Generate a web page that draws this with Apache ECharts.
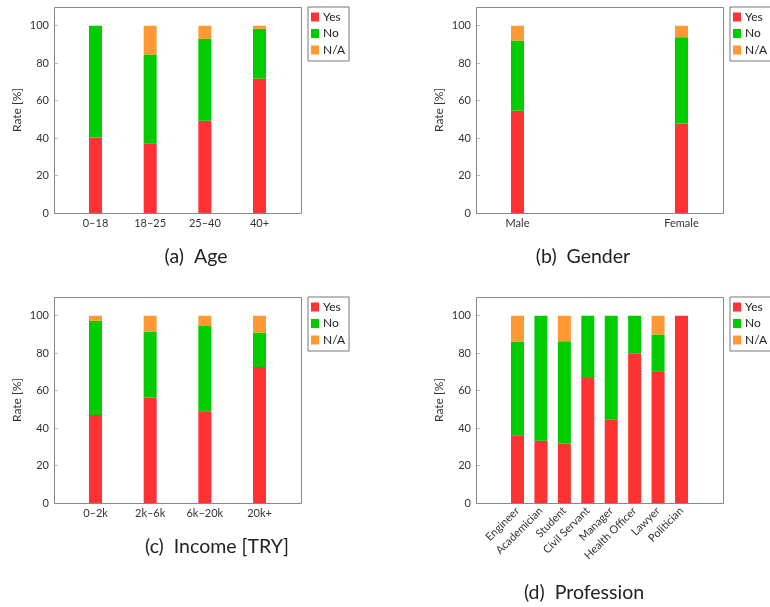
<!DOCTYPE html>
<html>
<head>
<meta charset="utf-8">
<script src="https://cdn.jsdelivr.net/npm/echarts@6/dist/echarts.min.js"></script>
<style>
  html, body { margin: 0; padding: 0; background: #fff; }
  #main { width: 770px; height: 607px; }
</style>
</head>
<body>
<div id="main"></div>
<script>
// survey answers per group, in percent
var ageCats = ['0\u201318', '18\u201325', '25\u201340', '40+'];
var ageYes = [40.3, 37.2, 49.2, 71.7];
var ageNo = [59.7, 47.4, 43.8, 26.7];
var ageNA = [0, 15.4, 7.0, 1.6];

var genderCats = ['Male', 'Female'];
var genderYes = [54.6, 47.8];
var genderNo = [37.5, 46.1];
var genderNA = [7.9, 6.1];

var incomeCats = ['0\u20132k', '2k\u20136k', '6k\u201320k', '20k+'];
var incomeYes = [47.0, 56.4, 49.0, 72.6];
var incomeNo = [50.3, 35.2, 45.5, 18.3];
var incomeNA = [2.7, 8.4, 5.5, 9.1];

var profCats = ['Engineer', 'Academician', 'Student', 'Civil Servant', 'Manager', 'Health Officer', 'Lawyer', 'Politician'];
var profYes = [36.2, 33.3, 31.8, 66.7, 44.4, 80.0, 70.0, 100];
var profNo = [50.0, 66.7, 54.6, 33.3, 55.6, 20.0, 20.0, 0];
var profNA = [13.8, 0, 13.6, 0, 0, 0, 10.0, 0];

var captions = ['(a)  Age', '(b)  Gender', '(c)  Income [TRY]', '(d)  Profession'];

// frame box of each panel; categories sit between left+pad and right-pad
var panels = [
    { cats: ageCats, yes: ageYes, no: ageNo, na: ageNA, left: 54, top: 7, cx: 196, cy: 257 },
    { cats: genderCats, yes: genderYes, no: genderNo, na: genderNA, left: 476, top: 7, cx: 583, cy: 257 },
    { cats: incomeCats, yes: incomeYes, no: incomeNo, na: incomeNA, left: 54, top: 297, cx: 217, cy: 547 },
    { cats: profCats, yes: profYes, no: profNo, na: profNA, left: 476, top: 297, cx: 584, cy: 593, rotate: 45 }
];
var boxW = 247, boxH = 206, pad = 41.5;

var colors = { Yes: '#ff3333', No: '#00cc00', 'N/A': '#ff9933' };
var font = 'Lato';

var myChart = echarts.init(document.getElementById('main'));

var grid = [], xAxis = [], yAxis = [], legend = [], series = [], graphic = [];

panels.forEach(function (p, k) {
    grid.push({
        left: p.left + pad, top: p.top, width: boxW - 2 * pad, height: boxH
    });
    xAxis.push({
        type: 'category', gridIndex: k, data: p.cats, boundaryGap: false,
        axisLine: { show: false },
        splitLine: { show: false },
        axisTick: { show: true, inside: true, length: 4, lineStyle: { color: '#bbb' } },
        axisLabel: {
            interval: 0,
            color: '#333', fontFamily: font, fontSize: 11,
            margin: p.rotate ? 6 : 5,
            rotate: p.rotate || 0
        }
    });
    yAxis.push({
        type: 'value', gridIndex: k, min: 0, max: 110, interval: 20,
        offset: pad,
        name: 'Rate [%]', nameLocation: 'middle', nameGap: 31,
        nameTextStyle: { color: '#333', fontFamily: font, fontSize: 12 },
        axisLine: { show: false, onZero: false },
        splitLine: { show: false },
        axisTick: { show: true, inside: true, length: 4, lineStyle: { color: '#bbb' } },
        axisLabel: { showMaxLabel: false, color: '#333', fontFamily: font, fontSize: 11, margin: 5 }
    });
    legend.push({
        data: ['Yes', 'No', 'N/A'],
        orient: 'vertical', left: p.left + boxW + 7, top: p.top,
        icon: 'rect', itemWidth: 8, itemHeight: 9, itemGap: 4.5,
        padding: [4, 4, 5, 3],
        borderColor: '#777', borderWidth: 1,
        textStyle: { color: '#222', fontFamily: font, fontSize: 12, lineHeight: 12, padding: [0, 0, 0, -1] },
        selectedMode: false
    });
    [['Yes', p.yes], ['No', p.no], ['N/A', p.na]].forEach(function (s) {
        series.push({
            name: s[0], type: 'bar', stack: 'p' + k,
            xAxisIndex: k, yAxisIndex: k,
            barWidth: 13, clip: false,
            itemStyle: { color: colors[s[0]] },
            data: s[1]
        });
    });
    graphic.push({
        type: 'rect', z: 10, silent: true,
        shape: { x: p.left + 0.5, y: p.top + 0.5, width: boxW, height: boxH },
        style: { fill: null, stroke: '#888', lineWidth: 1 }
    });
    graphic.push({
        type: 'text', x: p.cx, y: p.cy,
        style: {
            text: captions[k], fill: '#222', font: '19.5px ' + font,
            textAlign: 'center', textVerticalAlign: 'middle'
        }
    });
});

var option = {
    animation: false,
    backgroundColor: '#fff',
    grid: grid,
    xAxis: xAxis,
    yAxis: yAxis,
    legend: legend,
    series: series,
    graphic: graphic
};
myChart.setOption(option);
window.addEventListener('resize', function () {
    myChart.resize();
});
</script>
</body>
</html>
